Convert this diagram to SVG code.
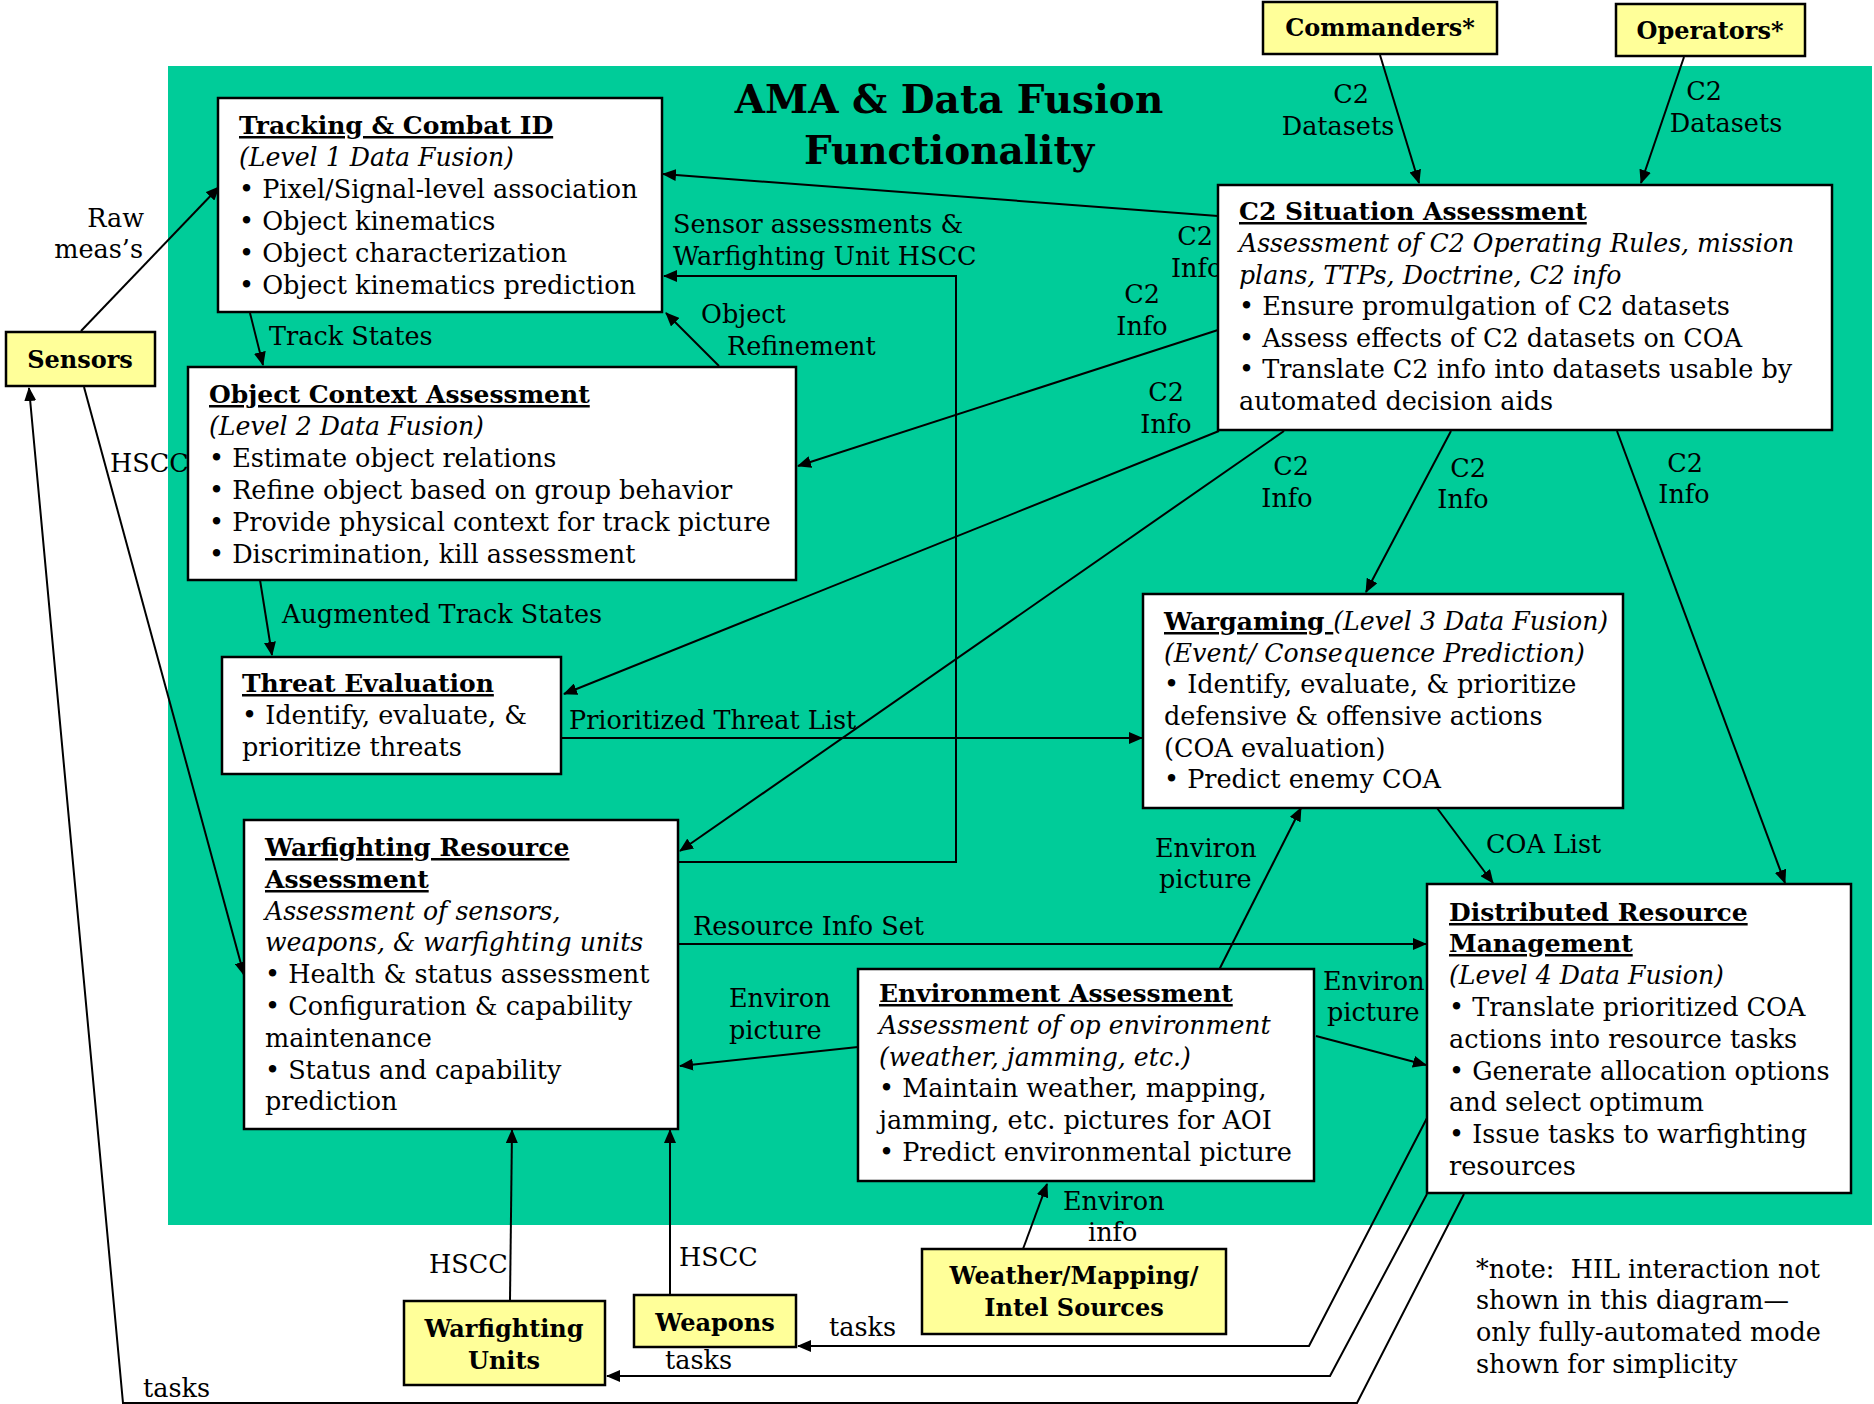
<svg xmlns="http://www.w3.org/2000/svg" width="1874" height="1404" viewBox="0 0 1874 1404">
<style>
.t{font-family:"DejaVu Serif","Liberation Serif",serif;font-size:25.5px;fill:#000}
.i{font-style:italic;font-size:25.2px}
.b{font-weight:bold;font-size:25px}
.u{text-decoration:underline}
.y{font-family:"DejaVu Serif","Liberation Serif",serif;font-weight:bold;font-size:24px;fill:#000;text-anchor:middle}
.m{text-anchor:middle}
.e{text-anchor:end}
.box{fill:#fff;stroke:#000;stroke-width:2.5}
.ybox{fill:#ffff99;stroke:#000;stroke-width:2.5}
.c{fill:none;stroke:#000;stroke-width:2;marker-end:url(#ah)}
</style>
<defs>
<marker id="ah" viewBox="0 0 14 12" refX="13" refY="6" markerWidth="14" markerHeight="12" markerUnits="userSpaceOnUse" orient="auto">
<path d="M0,0 L14,6 L0,12 Z" fill="#000"/>
</marker>
</defs>
<rect width="1874" height="1404" fill="#fff"/>
<rect x="168" y="66" width="1704" height="1159" fill="#00cc99"/>
<g id="title">
<text class="t b m" style="font-size:39px" x="949" y="113">AMA &amp; Data Fusion</text>
<text class="t b m" style="font-size:39px" x="949" y="164">Functionality</text>
</g>
<g id="connectors">
<path class="c" d="M1380,55 L1419,183"/>
<text class="t m" x="1351" y="103">C2</text><text class="t m" x="1338" y="135">Datasets</text>
<path class="c" d="M1684,57 L1641,183"/>
<text class="t m" x="1704" y="100">C2</text><text class="t m" x="1726" y="132">Datasets</text>
<path class="c" d="M1218,216 L663,174"/>
<text class="t m" x="1195" y="245">C2</text><text class="t" x="1171" y="277">Info</text>
<path class="c" d="M678,862 H956 V276 H664"/>
<text class="t" x="673" y="233">Sensor assessments &amp;</text>
<text class="t" x="673" y="265">Warfighting Unit HSCC</text>
<path class="c" d="M719,366 L666,313"/>
<text class="t" x="701" y="323">Object</text><text class="t" x="727" y="355">Refinement</text>
<path class="c" d="M250,313 L263,365"/>
<text class="t" x="269" y="345">Track States</text>
<path class="c" d="M81,331 L219,187"/>
<text class="t e" x="144" y="227">Raw</text><text class="t e" x="143" y="258">meas’s</text>
<path class="c" d="M1218,330 L798,466"/>
<text class="t m" x="1142" y="303">C2</text><text class="t m" x="1142" y="335">Info</text>
<path class="c" d="M1219,431 L564,694"/>
<text class="t m" x="1166" y="401">C2</text><text class="t m" x="1166" y="433">Info</text>
<path class="c" d="M1284,431 L680,851"/>
<text class="t m" x="1291" y="475">C2</text><text class="t m" x="1287" y="507">Info</text>
<path class="c" d="M1451,431 L1366,592"/>
<text class="t m" x="1468" y="477">C2</text><text class="t m" x="1463" y="508">Info</text>
<path class="c" d="M1617,431 L1785,883"/>
<text class="t m" x="1685" y="472">C2</text><text class="t m" x="1684" y="503">Info</text>
<path class="c" d="M84,387 L244,975"/>
<text class="t" x="110" y="472">HSCC</text>
<path class="c" d="M1464,1194 L1357,1403 H123 L29,388"/>
<text class="t" x="143" y="1397">tasks</text>
<path class="c" d="M1427,1118 L1309,1346 H798"/>
<text class="t" x="829" y="1336">tasks</text>
<path class="c" d="M1427,1194 L1330,1376 H607"/>
<text class="t" x="665" y="1369">tasks</text>
<path class="c" d="M510,1300 L512,1130"/>
<text class="t" x="429" y="1273">HSCC</text>
<path class="c" d="M670,1294 V1130"/>
<text class="t" x="679" y="1266">HSCC</text>
<path class="c" d="M260,580 L272,655"/>
<text class="t" x="282" y="623">Augmented Track States</text>
<path class="c" d="M561,738 H1142"/>
<text class="t" x="569" y="729">Prioritized Threat List</text>
<path class="c" d="M678,944 H1426"/>
<text class="t" x="693" y="935">Resource Info Set</text>
<path class="c" d="M858,1047 L680,1066"/>
<text class="t" x="729" y="1007">Environ</text><text class="t" x="729" y="1039">picture</text>
<path class="c" d="M1219,970 L1301,808"/>
<text class="t" x="1155" y="857">Environ</text><text class="t" x="1159" y="888">picture</text>
<path class="c" d="M1316,1036 L1426,1065"/>
<text class="t" x="1323" y="990">Environ</text><text class="t" x="1327" y="1021">picture</text>
<path class="c" d="M1437,808 L1493,883"/>
<text class="t" x="1486" y="853">COA List</text>
<path class="c" d="M1023,1249 L1047,1184"/>
<text class="t" x="1063" y="1210">Environ</text><text class="t" x="1088" y="1241">info</text>
</g>
<g id="commanders">
<rect class="ybox" x="1263" y="2" width="234" height="52"/>
<text class="y" x="1380" y="36">Commanders*</text>
</g>
<g id="operators">
<rect class="ybox" x="1616" y="4" width="189" height="52"/>
<text class="y" x="1710" y="39">Operators*</text>
</g>
<g id="c2-situation-assessment">
<rect class="box" x="1218" y="185" width="614" height="245"/>
<text class="t b u" x="1239" y="220">C2 Situation Assessment</text>
<text class="t i" x="1239" y="252">Assessment of C2 Operating Rules, mission</text>
<text class="t i" x="1239" y="284">plans, TTPs, Doctrine, C2 info</text>
<text class="t" x="1239" y="315">• Ensure promulgation of C2 datasets</text>
<text class="t" x="1239" y="347">• Assess effects of C2 datasets on COA</text>
<text class="t" x="1239" y="378">• Translate C2 info into datasets usable by</text>
<text class="t" x="1239" y="410">automated decision aids</text>
</g>
<g id="tracking-combat-id">
<rect class="box" x="218" y="98" width="444" height="214"/>
<text class="t b u" x="239" y="134">Tracking &amp; Combat ID</text>
<text class="t i" x="239" y="166">(Level 1 Data Fusion)</text>
<text class="t" x="239" y="198">• Pixel/Signal-level association</text>
<text class="t" x="239" y="230">• Object kinematics</text>
<text class="t" x="239" y="262">• Object characterization</text>
<text class="t" x="239" y="294">• Object kinematics prediction</text>
</g>
<g id="object-context-assessment">
<rect class="box" x="188" y="367" width="608" height="213"/>
<text class="t b u" x="209" y="403">Object Context Assessment</text>
<text class="t i" x="209" y="435">(Level 2 Data Fusion)</text>
<text class="t" x="209" y="467">• Estimate object relations</text>
<text class="t" x="209" y="499">• Refine object based on group behavior</text>
<text class="t" x="209" y="531">• Provide physical context for track picture</text>
<text class="t" x="209" y="563">• Discrimination, kill assessment</text>
</g>
<g id="threat-evaluation">
<rect class="box" x="222" y="657" width="339" height="117"/>
<text class="t b u" x="242" y="692">Threat Evaluation</text>
<text class="t" x="242" y="724">• Identify, evaluate, &amp;</text>
<text class="t" x="242" y="756">prioritize threats</text>
</g>
<g id="warfighting-resource-assessment">
<rect class="box" x="244" y="820" width="434" height="309"/>
<text class="t b u" x="265" y="856">Warfighting Resource</text>
<text class="t b u" x="265" y="888">Assessment</text>
<text class="t i" x="265" y="920">Assessment of sensors,</text>
<text class="t i" x="265" y="951">weapons, &amp; warfighting units</text>
<text class="t" x="265" y="983">• Health &amp; status assessment</text>
<text class="t" x="265" y="1015">• Configuration &amp; capability</text>
<text class="t" x="265" y="1047">maintenance</text>
<text class="t" x="265" y="1079">• Status and capability</text>
<text class="t" x="265" y="1110">prediction</text>
</g>
<g id="wargaming">
<rect class="box" x="1143" y="594" width="480" height="214"/>
<text class="t" x="1164" y="630"><tspan class="b u">Wargaming </tspan><tspan class="i">(Level 3 Data Fusion)</tspan></text>
<text class="t i" x="1164" y="662">(Event/ Consequence Prediction)</text>
<text class="t" x="1164" y="693">• Identify, evaluate, &amp; prioritize</text>
<text class="t" x="1164" y="725">defensive &amp; offensive actions</text>
<text class="t" x="1164" y="757">(COA evaluation)</text>
<text class="t" x="1164" y="788">• Predict enemy COA</text>
</g>
<g id="distributed-resource-management">
<rect class="box" x="1427" y="884" width="424" height="309"/>
<text class="t b u" x="1449" y="921">Distributed Resource</text>
<text class="t b u" x="1449" y="952">Management</text>
<text class="t i" x="1449" y="984">(Level 4 Data Fusion)</text>
<text class="t" x="1449" y="1016">• Translate prioritized COA</text>
<text class="t" x="1449" y="1048">actions into resource tasks</text>
<text class="t" x="1449" y="1080">• Generate allocation options</text>
<text class="t" x="1449" y="1111">and select optimum</text>
<text class="t" x="1449" y="1143">• Issue tasks to warfighting</text>
<text class="t" x="1449" y="1175">resources</text>
</g>
<g id="environment-assessment">
<rect class="box" x="858" y="969" width="456" height="212"/>
<text class="t b u" x="879" y="1002">Environment Assessment</text>
<text class="t i" x="879" y="1034">Assessment of op environment</text>
<text class="t i" x="879" y="1066">(weather, jamming, etc.)</text>
<text class="t" x="879" y="1097">• Maintain weather, mapping,</text>
<text class="t" x="879" y="1129">jamming, etc. pictures for AOI</text>
<text class="t" x="879" y="1161">• Predict environmental picture</text>
</g>
<g id="sensors">
<rect class="ybox" x="6" y="332" width="149" height="54"/>
<text class="y" x="80" y="368">Sensors</text>
</g>
<g id="warfighting-units">
<rect class="ybox" x="404" y="1301" width="201" height="84"/>
<text class="y" x="504" y="1337">Warfighting</text>
<text class="y" x="504" y="1369">Units</text>
</g>
<g id="weapons">
<rect class="ybox" x="634" y="1295" width="162" height="52"/>
<text class="y" x="715" y="1331">Weapons</text>
</g>
<g id="weather-mapping-intel">
<rect class="ybox" x="922" y="1249" width="304" height="85"/>
<text class="y" x="1074" y="1284">Weather/Mapping/</text>
<text class="y" x="1074" y="1316">Intel Sources</text>
</g>
<g id="note">
<text class="t" x="1476" y="1278">*note:&#160; HIL interaction not</text>
<text class="t" x="1476" y="1309">shown in this diagram—</text>
<text class="t" x="1476" y="1341">only fully-automated mode</text>
<text class="t" x="1476" y="1373">shown for simplicity</text>
</g>
</svg>
